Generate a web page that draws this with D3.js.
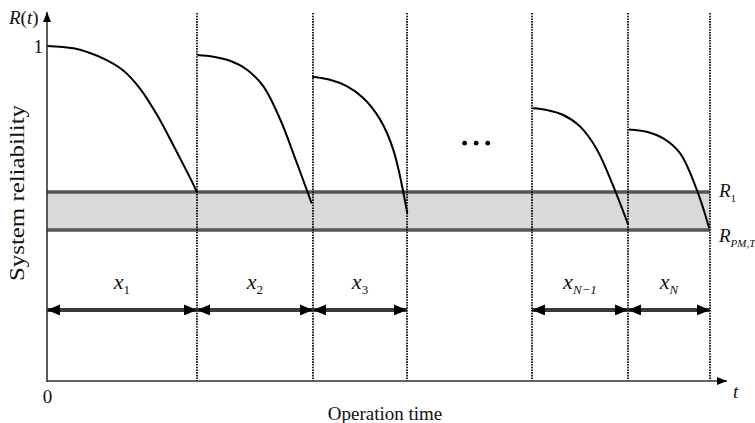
<!DOCTYPE html>
<html>
<head>
<meta charset="utf-8">
<script src="https://cdn.jsdelivr.net/npm/d3@7/dist/d3.min.js"></script>
<style>
  body { margin: 0; background: #fff; }
  text { font-family: "Liberation Serif", "Times New Roman", serif; fill: #111; }
</style>
</head>
<body>
<div id="chart"></div>
<script>
// maintenance cycle boundaries (operation time, arbitrary units)
var boundaries = [0, 22.12, 39.23, 53.1, 71.53, 85.69, 97.79];
var cycleLabels = ["1", "2", "3", "N\u22121", "N"];
var cycleIndex = [0, 1, 2, 4, 5];   // which interval each label belongs to (3 is the "..." gap)

// reliability curves: [t, R]
var curve1 = [[0, 1.0], [3.88, 0.993], [6.34, 0.979], [8.80, 0.958], [11.25, 0.927], [13.72, 0.873], [16.18, 0.796], [18.63, 0.704], [21.09, 0.607], [22.12, 0.564]];
var curve2 = [[22.17, 0.973], [24.53, 0.968], [26.99, 0.956], [29.45, 0.930], [31.9, 0.880], [34.37, 0.782], [36.83, 0.652], [39.04, 0.530]];
var curve3 = [[39.13, 0.908], [41.74, 0.899], [44.2, 0.880], [46.65, 0.845], [49.12, 0.781], [51.08, 0.690], [53.14, 0.501]];
var curve4 = [[71.64, 0.814], [73.70, 0.809], [76.15, 0.794], [78.61, 0.760], [81.08, 0.692], [83.52, 0.582], [85.74, 0.466]];
var curve5 = [[85.84, 0.751], [88.45, 0.744], [90.9, 0.724], [93.36, 0.680], [95.82, 0.572], [97.68, 0.456]];
var curves = [curve1, curve2, curve3, curve4, curve5];

var R1 = 0.564;
var RPMT = 0.451;
var arrowLevel = 0.212;
var dotsT = [61.6, 63.3, 65.0];
var dotsR = 0.710;

var width = 755, height = 423;

var x = d3.scaleLinear().domain([0, 100]).range([47, 725]);
var y = d3.scaleLinear().domain([0, 1]).range([381, 46]);

var svg = d3.select("#chart").append("svg")
    .attr("width", width)
    .attr("height", height);

var defs = svg.append("defs");
function marker(id, w, h, orient) {
    defs.append("marker")
        .attr("id", id)
        .attr("viewBox", "0 0 " + w + " " + h)
        .attr("refX", w).attr("refY", h / 2)
        .attr("markerWidth", w).attr("markerHeight", h)
        .attr("markerUnits", "userSpaceOnUse")
        .attr("orient", orient)
        .append("path")
        .attr("d", "M0,0L" + w + "," + (h / 2) + "L0," + h + "Z")
        .attr("fill", "#000");
}
marker("axisHead", 10, 8, "auto");
marker("dimHead", 13, 11, "auto-start-reverse");

// grey band between R_PM,T and R_1
svg.append("rect")
    .attr("x", x(0))
    .attr("y", y(R1))
    .attr("width", x(boundaries[6]) - x(0))
    .attr("height", y(RPMT) - y(R1))
    .attr("fill", "#d9d9d9");

[R1, RPMT].forEach(function(r) {
    svg.append("line")
        .attr("x1", x(0)).attr("x2", x(boundaries[6]))
        .attr("y1", y(r)).attr("y2", y(r))
        .attr("stroke", "#555")
        .attr("stroke-width", 3.5);
});

// dotted PM lines
svg.append("g")
    .selectAll("line")
    .data(boundaries.slice(1))
    .enter()
    .append("line")
    .attr("x1", d => x(d)).attr("x2", d => x(d))
    .attr("y1", 13).attr("y2", y(0))
    .attr("stroke", "#000")
    .attr("stroke-width", 1.7)
    .attr("stroke-dasharray", "1.6,1.1");

// reliability curves
var line = d3.line()
    .x(d => x(d[0]))
    .y(d => y(d[1]))
    .curve(d3.curveCatmullRom.alpha(0.5));

svg.append("g")
    .selectAll("path")
    .data(curves)
    .enter()
    .append("path")
    .attr("d", line)
    .attr("fill", "none")
    .attr("stroke", "#000")
    .attr("stroke-width", 2);

// the "..." between cycles
svg.append("g")
    .selectAll("circle")
    .data(dotsT)
    .enter()
    .append("circle")
    .attr("cx", d => x(d))
    .attr("cy", y(dotsR))
    .attr("r", 2.4)
    .attr("fill", "#000");

// axes
svg.append("line")
    .attr("x1", x(0)).attr("x2", x(0))
    .attr("y1", y(0) + 1).attr("y2", 12)
    .attr("stroke", "#333").attr("stroke-width", 1.6)
    .attr("marker-end", "url(#axisHead)");
svg.append("line")
    .attr("x1", x(0)).attr("x2", 727)
    .attr("y1", y(0)).attr("y2", y(0))
    .attr("stroke", "#333").attr("stroke-width", 1.6)
    .attr("marker-end", "url(#axisHead)");

var yAxis = svg.append("g")
    .attr("transform", "translate(" + x(0) + ",0)")
    .call(d3.axisLeft(y).tickValues([1]).tickSize(0).tickPadding(3).tickFormat(d3.format("d")));
yAxis.select(".domain").remove();
yAxis.selectAll("text").style("font-family", "Liberation Serif, serif").style("font-size", "19px").attr("dx", "-1");

var xAxis = svg.append("g")
    .attr("transform", "translate(0," + y(0) + ")")
    .call(d3.axisBottom(x).tickValues([0]).tickSize(0).tickPadding(9).tickFormat(d3.format("d")));
xAxis.select(".domain").remove();
xAxis.selectAll("text").style("font-family", "Liberation Serif, serif").style("font-size", "19px");

// dimension arrows x_1 ... x_N
cycleIndex.forEach(function(k, i) {
    var t0 = boundaries[k], t1 = boundaries[k + 1];
    svg.append("line")
        .attr("x1", x(t0)).attr("x2", x(t1))
        .attr("y1", y(arrowLevel)).attr("y2", y(arrowLevel))
        .attr("stroke", "#3a3a3a")
        .attr("stroke-width", 4)
        .attr("marker-start", "url(#dimHead)")
        .attr("marker-end", "url(#dimHead)");
    var lab = svg.append("text")
        .attr("x", (x(t0) + x(t1)) / 2)
        .attr("y", y(arrowLevel) - 21)
        .attr("text-anchor", "middle")
        .style("font-size", "22px")
        .style("font-style", "italic");
    lab.append("tspan").text("x");
    lab.append("tspan")
        .attr("dy", 5)
        .style("font-size", "13px")
        .style("font-style", /^\d$/.test(cycleLabels[i]) ? "normal" : "italic")
        .text(cycleLabels[i]);
});

// labels
var rt = svg.append("text").attr("x", 9).attr("y", 24).style("font-size", "19px");
rt.append("tspan").style("font-style", "italic").text("R");
rt.append("tspan").text("(");
rt.append("tspan").style("font-style", "italic").text("t");
rt.append("tspan").text(")");

svg.append("text")
    .attr("transform", "translate(24,193) rotate(-90)")
    .attr("text-anchor", "middle")
    .attr("textLength", 176)
    .attr("lengthAdjust", "spacingAndGlyphs")
    .style("font-size", "21px")
    .text("System reliability");

svg.append("text")
    .attr("x", 385).attr("y", 420)
    .attr("text-anchor", "middle")
    .style("font-size", "19px")
    .text("Operation time");

svg.append("text")
    .attr("x", 733).attr("y", 398)
    .style("font-size", "19px")
    .style("font-style", "italic")
    .text("t");

var r1 = svg.append("text").attr("x", 719).attr("y", y(R1) + 5).style("font-size", "19px");
r1.append("tspan").style("font-style", "italic").text("R");
r1.append("tspan").attr("dy", 5).style("font-size", "11px").text("1");

var rp = svg.append("text").attr("x", 719).attr("y", y(RPMT) + 12).style("font-size", "19px");
rp.append("tspan").style("font-style", "italic").text("R");
rp.append("tspan").attr("dy", 5).style("font-size", "11px").style("font-style", "italic").text("PM,T");
</script>
</body>
</html>
